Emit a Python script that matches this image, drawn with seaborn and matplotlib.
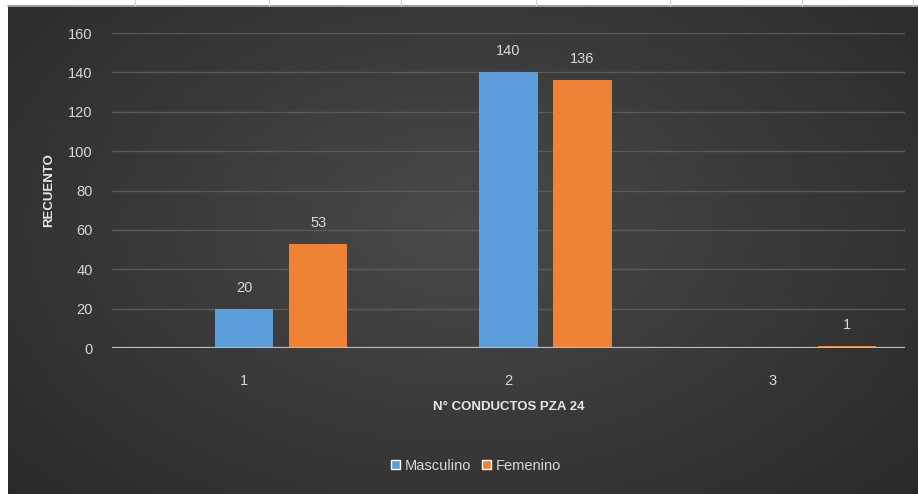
import numpy as np
import pandas as pd
import matplotlib
matplotlib.use("Agg")
import matplotlib.pyplot as plt
from matplotlib.lines import Line2D
from matplotlib.patches import Patch
import seaborn as sns

# Data
categories = ["1", "2", "3"]
masculino = [20, 140, 0]
femenino = [53, 136, 1]
yticks = [0, 20, 40, 60, 80, 100, 120, 140, 160]

sns.set_theme(style="dark")
plt.rcParams["font.family"] = ["Liberation Sans", "DejaVu Sans"]

W, H = 918, 494
fig = plt.figure(figsize=(W / 100, H / 100), dpi=100, facecolor="white")

# dark chart-area background with a soft radial glow
bg = fig.add_axes([8 / W, 0, 1 - 8 / W, 1 - 7 / H])
bg.set_axis_off()
yy, xx = np.mgrid[0:1:300j, 0:1:600j]
r = np.sqrt(((xx - 0.5) / 0.75) ** 2 + ((yy - 0.45) / 0.9) ** 2)
val = np.clip(0.29 - 0.14 * r, 0.15, 0.29)
bg.imshow(np.dstack([val, val, val]), aspect="auto", extent=[0, 1, 0, 1],
          interpolation="bicubic")
bg.set_xlim(0, 1)
bg.set_ylim(0, 1)

# thin line along top of chart area and faint table marks above it
fig.add_artist(Line2D([8 / W, 1], [1 - 6.5 / H] * 2, color="#8a8a8a", lw=1.2,
                      transform=fig.transFigure))
for xm in [135, 269, 401, 536, 670, 802, 913]:
    fig.add_artist(Line2D([xm / W] * 2, [1 - 6 / H, 1], color="#cfcfcf", lw=0.8,
                          transform=fig.transFigure))

ax = fig.add_axes([112 / W, 1 - 348 / H, (905 - 112) / W, (348 - 33) / H])
ax.patch.set_alpha(0)

df = pd.DataFrame({
    "cat": categories * 3,
    "serie": [" "] * 3 + ["Masculino"] * 3 + ["Femenino"] * 3,
    "valor": [0, 0, 0] + masculino + femenino,
})
palette = {" ": (0, 0, 0, 0), "Masculino": "#5c9ddb", "Femenino": "#ef8234"}
sns.barplot(data=df, x="cat", y="valor", hue="serie",
            hue_order=[" ", "Masculino", "Femenino"], palette=palette,
            width=0.84, gap=0.21, linewidth=0, saturation=1, ax=ax, legend=False)

# value labels (empty bars carry no label)
for cont, vals in zip(ax.containers[1:], [masculino, femenino]):
    for bar, v in zip(cont, vals):
        if v == 0:
            continue
        ax.annotate(f"{v}", (bar.get_x() + bar.get_width() / 2, v),
                    xytext=(0, 10), textcoords="offset points",
                    ha="center", va="bottom", color="#d9d9d9", fontsize=10.5)

ax.set_xlim(-0.5, 2.5)
ax.set_ylim(0, 160)
ax.set_yticks(yticks)
ax.yaxis.grid(True, color="#5a5a5a", lw=1)
ax.xaxis.grid(False)
ax.axhline(0, color="#bdbdbd", lw=1.6, zorder=3)
for s in ax.spines.values():
    s.set_visible(False)
ax.tick_params(axis="y", colors="#d9d9d9", labelsize=10.5, length=0, pad=14)
ax.tick_params(axis="x", colors="#d9d9d9", labelsize=10.5, length=0, pad=19)
ax.set_ylabel("RECUENTO", color="#e6e6e6", fontsize=9.5, fontweight="bold",
              labelpad=9)
ax.set_xlabel("N° CONDUCTOS PZA 24", color="#e6e6e6", fontsize=9.5,
              fontweight="bold", labelpad=9)

handles = [Patch(facecolor="#5c9ddb", label="Masculino"),
           Patch(facecolor="#ef8234", label="Femenino")]
leg = fig.legend(handles=handles, loc="center", bbox_to_anchor=(476 / W, 1 - 466 / H),
                 ncol=2, frameon=False, fontsize=10.5, handlelength=0.6,
                 handleheight=0.6, handletextpad=0.3, columnspacing=0.8)
for t in leg.get_texts():
    t.set_color("#d9d9d9")

fig.savefig("out.png", dpi=100, facecolor="white")
